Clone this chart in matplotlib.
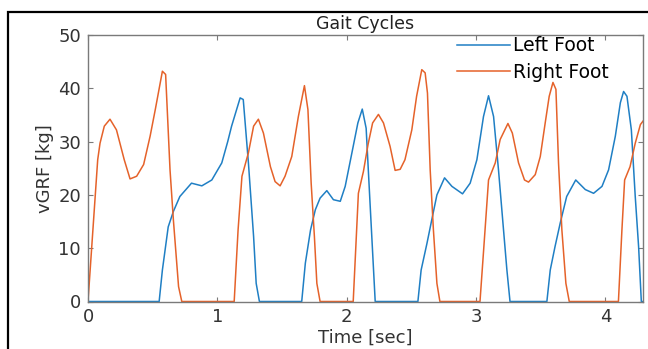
import matplotlib
matplotlib.use('Agg')
import matplotlib.pyplot as plt
from matplotlib.patches import Rectangle

# left foot (blue) - time in sec, vGRF in kg
left_t = [0, 0.55, 0.575, 0.62, 0.66, 0.71, 0.80, 0.88, 0.957, 1.034, 1.08, 1.11, 1.176, 1.20, 1.24, 1.28, 1.30, 1.325,
          1.652, 1.68, 1.72, 1.757, 1.794, 1.846, 1.897, 1.95, 1.988, 2.04, 2.086, 2.12, 2.15, 2.18, 2.22,
          2.55, 2.575, 2.62, 2.657, 2.697, 2.756, 2.813, 2.895, 2.954, 3.006, 3.057, 3.096, 3.135, 3.173, 3.212, 3.238, 3.262,
          3.547, 3.573, 3.61, 3.65, 3.70, 3.77, 3.844, 3.908, 3.973, 4.024, 4.076, 4.115, 4.14, 4.166, 4.20, 4.23, 4.256, 4.277, 4.29]
left_v = [0, 0, 5.9, 14, 16.9, 19.7, 22.2, 21.7, 22.8, 26, 30, 32.9, 38.2, 37.9, 26, 12.2, 3.4, 0,
          0, 7.2, 13.4, 17.2, 19.4, 20.8, 19.1, 18.8, 21.6, 27.9, 33.5, 36.1, 32.5, 18.5, 0,
          0, 5.9, 10.9, 15.3, 20, 23.2, 21.6, 20.2, 22.2, 26.6, 34.7, 38.6, 34.7, 24.7, 13.4, 5.9, 0,
          0, 5.9, 10.3, 14.7, 19.7, 22.8, 21, 20.3, 21.6, 24.7, 31, 37.3, 39.4, 38.5, 32.2, 19.7, 10.3, 0, 0]

# right foot (orange)
right_t = [0, 0.075, 0.093, 0.126, 0.17, 0.22, 0.28, 0.325, 0.376, 0.43, 0.48, 0.52, 0.575, 0.60, 0.634, 0.66, 0.70, 0.725,
           1.13, 1.16, 1.19, 1.24, 1.28, 1.317, 1.356, 1.41, 1.446, 1.485, 1.523, 1.575, 1.626, 1.673, 1.70, 1.725, 1.75, 1.769, 1.794,
           2.05, 2.09, 2.129, 2.165, 2.20, 2.245, 2.284, 2.335, 2.374, 2.413, 2.45, 2.503, 2.54, 2.58, 2.606, 2.624, 2.645, 2.67, 2.697, 2.72,
           3.03, 3.06, 3.096, 3.148, 3.186, 3.246, 3.28, 3.328, 3.374, 3.405, 3.457, 3.496, 3.534, 3.565, 3.594, 3.617, 3.637, 3.663, 3.694, 3.72,
           4.10, 4.127, 4.148, 4.19, 4.23, 4.27, 4.295]
right_v = [0, 26.6, 29.7, 32.9, 34.2, 32.2, 26.6, 23.0, 23.5, 25.7, 31, 36, 43.2, 42.6, 24.7, 15.3, 2.8, 0,
           0, 13.4, 23.5, 27.9, 32.9, 34.2, 31.6, 25.3, 22.5, 21.7, 23.5, 27.2, 34.7, 40.5, 36, 22.2, 12.2, 3.4, 0,
           0, 20.3, 24.4, 29.5, 33.5, 35.1, 33.5, 29.1, 24.6, 24.8, 26.6, 32.2, 38.5, 43.5, 42.9, 39.1, 24.7, 13.4, 3.4, 0,
           0, 10.3, 22.8, 26, 30.4, 33.4, 31.6, 26, 22.8, 22.4, 23.8, 27.2, 33.5, 38.5, 41.1, 39.8, 26, 13.4, 3.4, 0,
           0, 13.4, 22.8, 25.3, 29.7, 33.2, 34]

x_ticks = [0, 1, 2, 3, 4]
y_ticks = [0, 10, 20, 30, 40, 50]

fig = plt.figure(figsize=(6.48, 3.49), dpi=100)
ax = fig.add_axes([88 / 648, 47.5 / 349, 555 / 648, 266.5 / 349])

ax.plot(left_t, left_v, color='#1f7fc4', lw=1.1, label='Left Foot')
ax.plot(right_t, right_v, color='#e5622a', lw=1.1, label='Right Foot')

ax.set_xlim(0, 4.29)
ax.set_ylim(0, 50)
ax.set_xticks(x_ticks)
ax.set_yticks(y_ticks)

for s in ax.spines.values():
    s.set_color('#7a7a7a')
    s.set_linewidth(1.0)
ax.tick_params(direction='in', top=True, right=True, length=3.5, color='#7a7a7a',
               labelsize=13, labelcolor='#333333')
ax.tick_params(axis='x', pad=5)
ax.tick_params(axis='y', pad=5)

ax.set_title('Gait Cycles', fontsize=12.5, color='#222222', pad=4)
ax.set_xlabel('Time [sec]', fontsize=13, color='#333333', labelpad=2)
ax.set_ylabel('vGRF [kg]', fontsize=13, color='#333333', labelpad=3)

ax.legend(loc='upper left', bbox_to_anchor=(0.665, 0.995), frameon=False, fontsize=13.5,
          handlelength=2.8, handletextpad=0.2, labelspacing=0.4, borderpad=0, borderaxespad=0)

# black frame on left and top of the screenshot
fig.patches.append(Rectangle((8 / 648, -0.1), 1.2, 1.1 - 12 / 349, transform=fig.transFigure,
                             fill=False, edgecolor='black', lw=1.6))

fig.savefig('out.png', dpi=100)
